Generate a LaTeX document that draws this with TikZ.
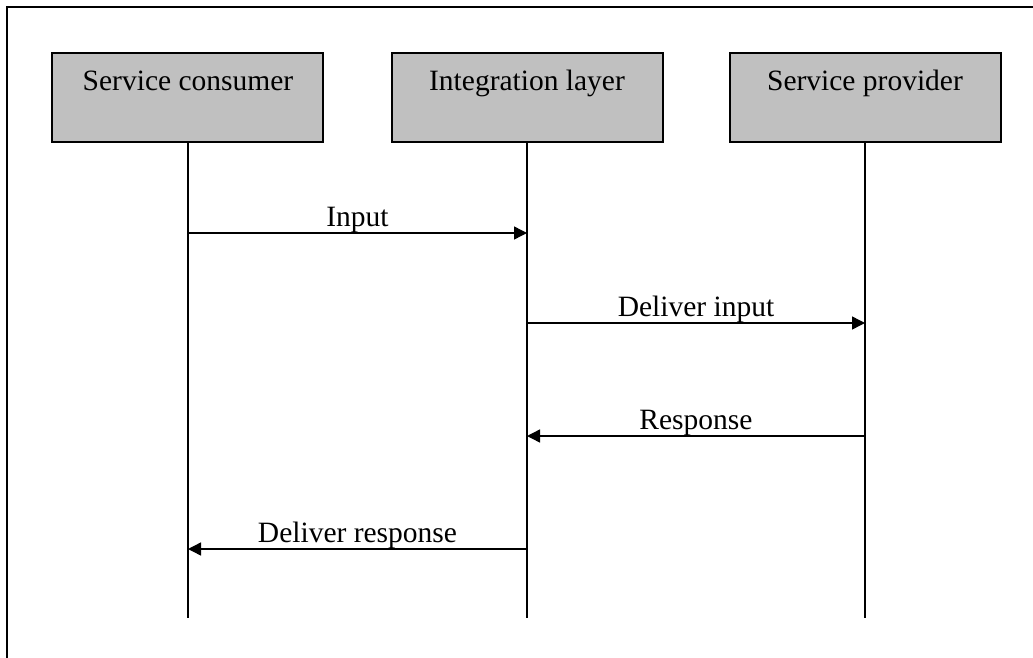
\documentclass[tikz,border=0pt]{standalone}
\usepackage{fontspec}
\setmainfont{Liberation Serif}
\usetikzlibrary{arrows.meta}
\begin{document}
\begin{tikzpicture}[x=1pt,y=-1pt,
  every node/.style={font=\fontsize{29.5}{33}\selectfont},
  actor/.style={draw=black, line width=1.6pt, fill={rgb,255:red,192;green,192;blue,192}, minimum width=271pt, minimum height=89pt, inner sep=0pt},
  lifeline/.style={line width=1.6pt},
  msg/.style={line width=1.4pt, -{Triangle[length=13pt,width=13pt]}},
  lbl/.style={anchor=base, yshift=7pt, inner sep=0pt}]
\useasboundingbox (0,0) rectangle (1033,658);
\draw[line width=2pt] (7,660) -- (7,7) -- (1035,7);
% actors
\node[actor] (A) at (187.5,97.5) {};
\node[actor] (B) at (527.5,97.5) {};
\node[actor] (C) at (865.5,97.5) {};
\node[anchor=base] (At) at (188,91) {Service consumer};
\node[anchor=base] (Bt) at (527,91) {Integration layer};
\node[anchor=base] (Ct) at (865,91) {Service provider};
% lifeline ends
\coordinate (Ae) at (188,618);
\coordinate (Be) at (527,618);
\coordinate (Ce) at (865,618);
\draw[lifeline] (A.south -| Ae) -- (Ae);
\draw[lifeline] (B.south -| Be) -- (Be);
\draw[lifeline] (C.south -| Ce) -- (Ce);
% message points
\coordinate (a1) at (188,233); \coordinate (b1) at (527,233);
\coordinate (b2) at (527,323); \coordinate (c2) at (865,323);
\coordinate (c3) at (865,436); \coordinate (b3) at (527,436);
\coordinate (b4) at (527,549); \coordinate (a4) at (188,549);
\draw[msg] (a1) -- (b1) node[midway, lbl] (m1) {Input};
\draw[msg] (b2) -- (c2) node[midway, lbl] (m2) {Deliver input};
\draw[msg] (c3) -- (b3) node[midway, lbl] (m3) {Response};
\draw[msg] (b4) -- (a4) node[midway, lbl] (m4) {Deliver response};
\end{tikzpicture}
\end{document}
